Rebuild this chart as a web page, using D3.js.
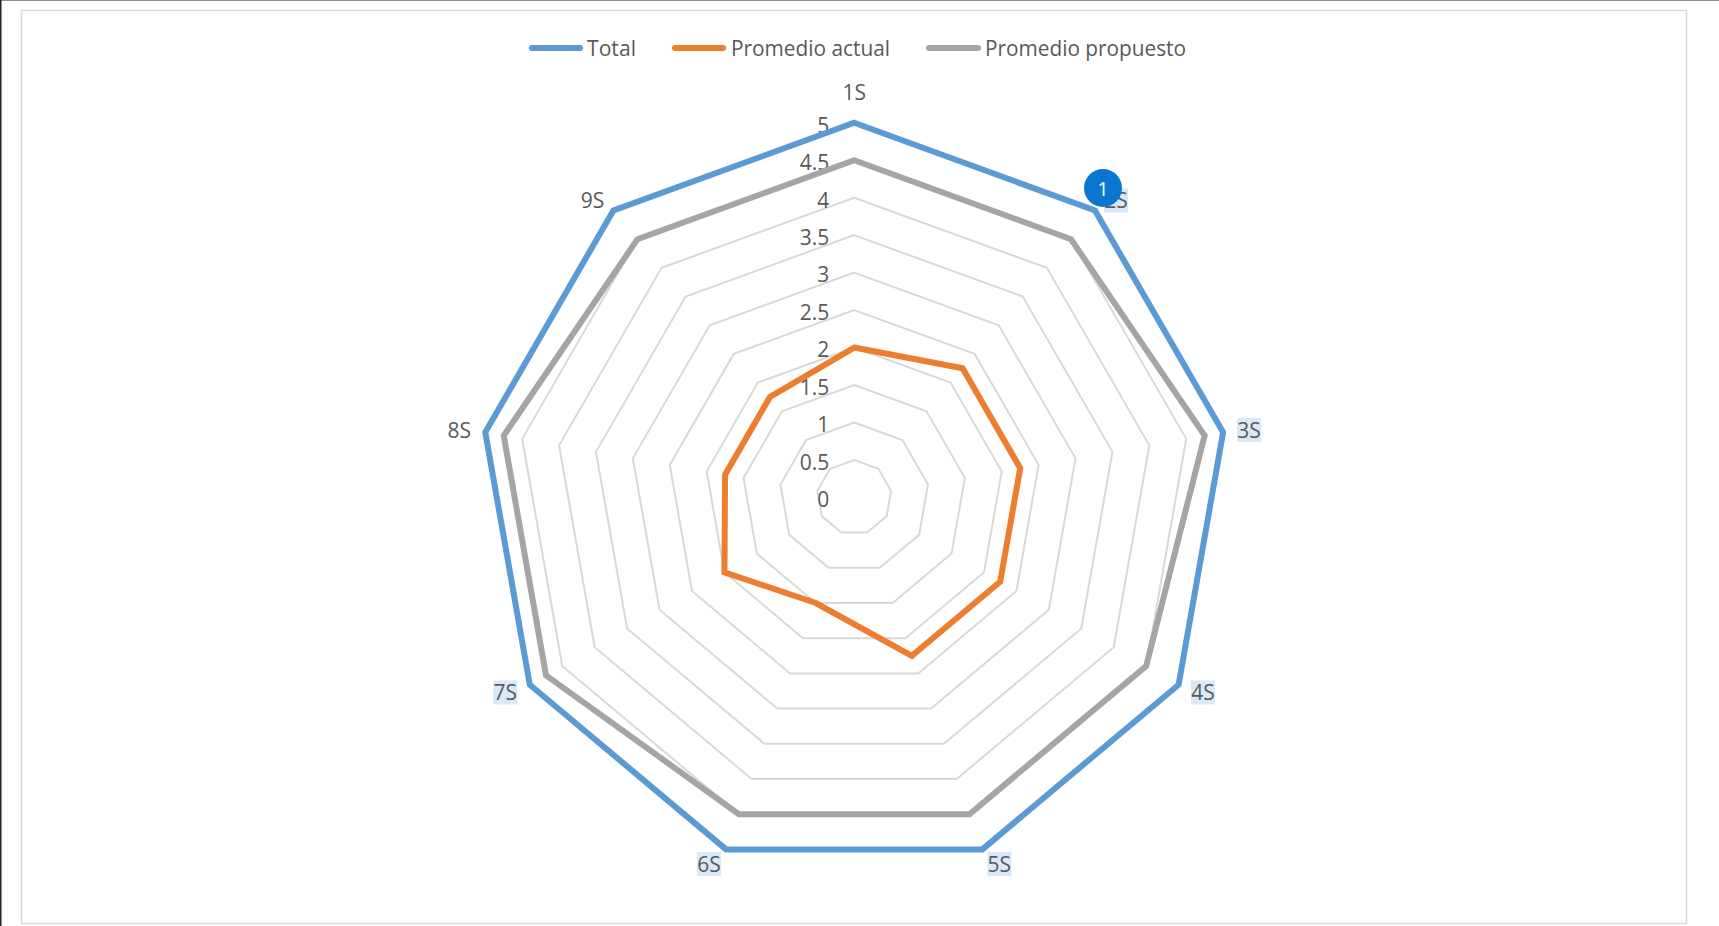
<!DOCTYPE html>
<html><head><meta charset="utf-8">
<script src="https://cdn.jsdelivr.net/npm/d3@7"></script>
<style>html,body{margin:0;padding:0;background:#fff;overflow:hidden}svg{display:block}text{font-family:"Open Sans",sans-serif;font-size:21px;fill:#595959}</style>
</head><body><svg id="c" width="1719" height="926"></svg>
<script>
const categories = ["1S","2S","3S","4S","5S","6S","7S","8S","9S"];
const total = [5,5,5,5,5,5,5,5,5];
const promedioActual = [2,2.25,2.25,2.25,2.25,1.5,2,1.75,1.75];
const promedioPropuesto = [4.5,4.5,4.75,4.5,4.5,4.5,4.75,4.75,4.5];
const ticks = [0,0.5,1,1.5,2,2.5,3,3.5,4,4.5,5];
const highlighted = ["2S","3S","4S","5S","6S","7S"];
const seriesNames = ["Total","Promedio actual","Promedio propuesto"];
const seriesColors = ["#5b9bd5","#ed7d31","#a5a5a5"];

const svg = d3.select("#c");
const cx = 854.2, cy = 497.4;
const r = d3.scaleLinear().domain([0,5]).range([0,374.6]);
const angle = d3.scalePoint().domain(categories).range([0, 2*Math.PI*8/9]);
const radial = d3.lineRadial().angle((d,i)=>angle(categories[i])).radius(d=>r(d)).curve(d3.curveLinearClosed);

svg.append("rect").attr("x",0).attr("y",0).attr("width",1719).attr("height",1).attr("fill","#8c8c8c");
svg.append("rect").attr("x",0).attr("y",0).attr("width",1.5).attr("height",926).attr("fill","#222");
svg.append("rect").attr("x",21.5).attr("y",10.5).attr("width",1665).attr("height",913).attr("fill","#fff").attr("stroke","#d9d9d9").attr("stroke-width",1.5);

const g = svg.append("g").attr("transform",`translate(${cx},${cy})`);
g.selectAll(".ring").data(ticks.slice(1)).join("path").attr("class","ring")
  .attr("d",t=>radial(categories.map(()=>t))).attr("fill","none").attr("stroke","#d9d9d9").attr("stroke-width",2);

// category labels
const padX = d3.scaleLinear().domain([0,.342,.643,.866,.985]).range([0,17,21,24.5,26]);
const padY = d3.scaleLinear().domain([-.94,-.5,.174,.766,1]).range([14.7,7.7,-2.4,-10,-30.5]);
categories.forEach(c=>{
  const a = angle(c), s = Math.sin(a), co = Math.cos(a);
  const x = r(5)*s + Math.sign(s)*padX(Math.abs(s)), y = -r(5)*co + padY(co);
  if (highlighted.includes(c)) g.append("rect").attr("x",x-12).attr("y",y-12).attr("width",24).attr("height",24).attr("fill","#dae9f7");
  g.append("text").attr("x",x).attr("y",y).attr("text-anchor","middle").attr("dominant-baseline","central").text(c);
});

// tick labels
g.selectAll(".tick").data(ticks).join("text").attr("class","tick")
  .attr("x",-25).attr("y",t=>-r(t)+1.8).attr("text-anchor","end").attr("dominant-baseline","central").text(t=>t);

// series
[total,promedioActual,promedioPropuesto].forEach((vals,i)=>{
  g.append("path").attr("d",radial(vals)).attr("fill","none").attr("stroke",seriesColors[i]).attr("stroke-width",6).attr("stroke-linejoin","miter");
});

// legend
const legendX = [[529,583,587,636],[672,726,731,890],[926,981,985,1186]];
seriesNames.forEach((n,i)=>{
  const [a,b,t,e] = legendX[i];
  svg.append("line").attr("x1",a+3).attr("x2",b-3).attr("y1",48).attr("y2",48).attr("stroke",seriesColors[i]).attr("stroke-width",6).attr("stroke-linecap","round");
  svg.append("text").attr("x",t).attr("y",47.5).attr("dominant-baseline","central").attr("textLength",e-t).attr("lengthAdjust","spacingAndGlyphs").text(n);
});

// badge
svg.append("circle").attr("cx",1103).attr("cy",188).attr("r",19).attr("fill","#0b76d0");
svg.append("text").attr("x",1103).attr("y",188).attr("text-anchor","middle").attr("dominant-baseline","central").style("fill","#fff").style("font-size","20px").text("1");
</script></body></html>
